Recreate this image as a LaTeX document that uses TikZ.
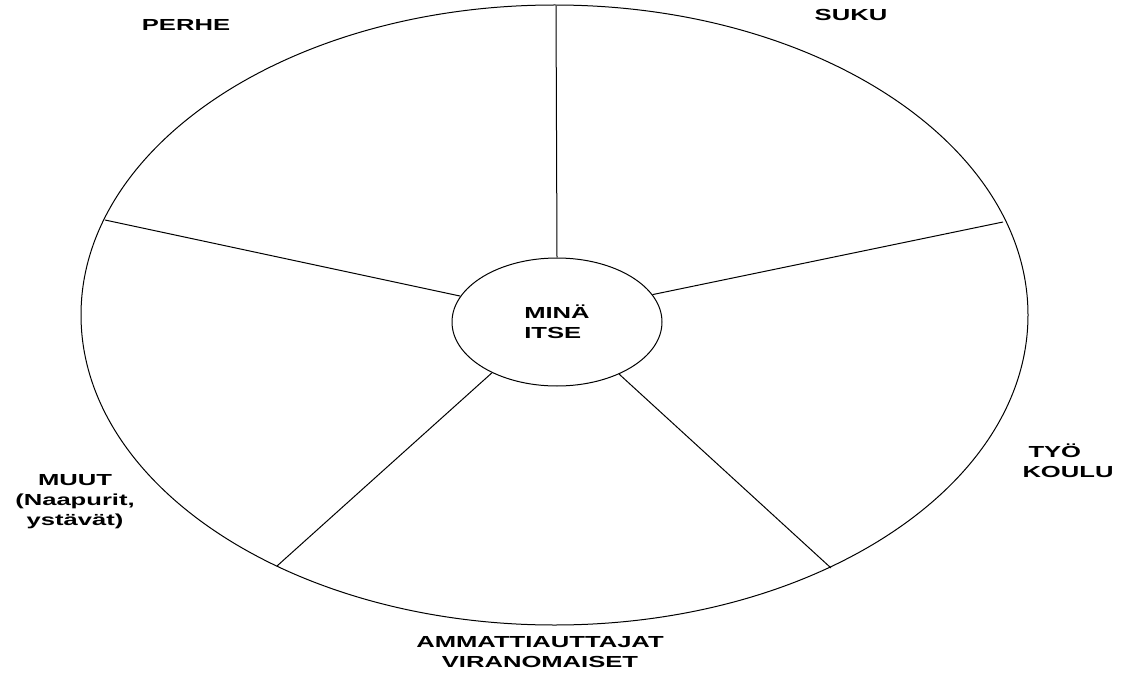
\documentclass[tikz,border=0pt]{standalone}
\usepackage{fontspec}
\setmainfont{Liberation Sans}
\usetikzlibrary{shapes.geometric}
\newcommand{\wide}[1]{\scalebox{1.6}[1]{#1}}

\begin{document}
\begin{tikzpicture}[x=1pt,y=1pt,
        spoke/.style={black,line width=1pt},
        sector/.style={font=\bfseries\fontsize{16}{20}\selectfont,inner sep=0pt}
    ]
    \useasboundingbox (0,0) rectangle (1125,-674);
    \draw[spoke] (554.5,-315) ellipse [x radius=473.5, y radius=310];
    \node[draw,spoke,ellipse,minimum width=210pt,minimum height=128pt,align=left,sector] (me) at (557,-322) {\wide{MINÄ}\\\wide{ITSE}};
    % spoke ends on the rim
    \coordinate (top) at (556,-6);
    \coordinate (ur) at (1003,-222);
    \coordinate (lr) at (831,-568);
    \coordinate (ll) at (277,-566);
    \coordinate (ul) at (105,-220);
    \foreach \a/\p in {90/top,16/ur,-40/lr,218/ll,165/ul}
        \draw[spoke] (me.\a) -- (\p);
    % labels
    \node[sector] (perhe) at (186,-25) {\wide{PERHE}};
    \node[sector] (suku) at (851,-15) {\wide{SUKU}};
    \node[sector,align=left] (tyo) at (1068,-461) {\hspace{6pt}\wide{TYÖ}\\\wide{KOULU}};
    \node[sector,align=center] (muut) at (75,-502) {\wide{MUUT}\\\wide{(Naapurit,}\\\wide{ystävät)}};
    \node[sector,align=center] (apu) at (540,-652) {\wide{AMMATTIAUTTAJAT}\\\wide{VIRANOMAISET}};
\end{tikzpicture}
\end{document}
